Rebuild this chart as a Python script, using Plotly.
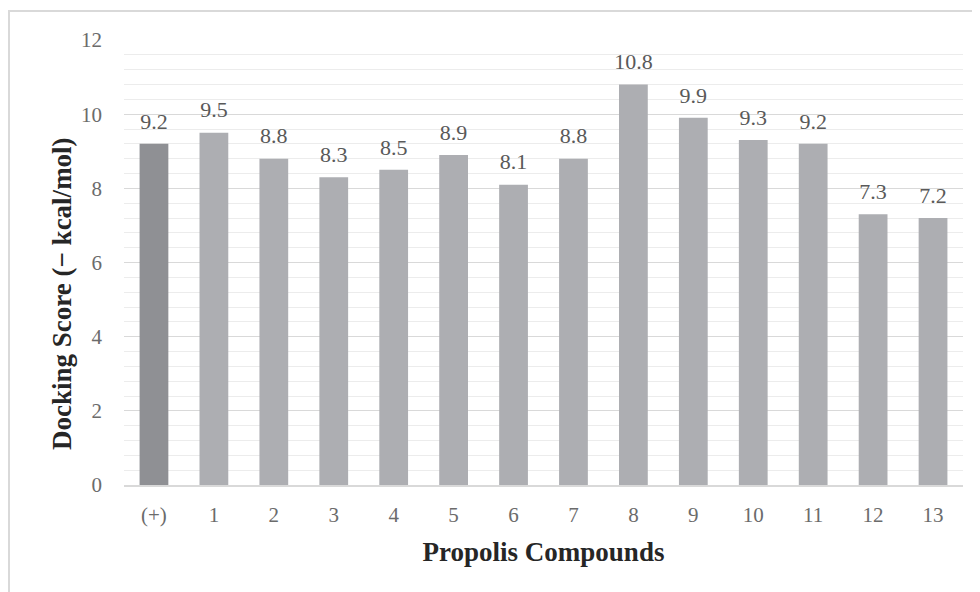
import plotly.graph_objects as go

categories = ["(+)", "1", "2", "3", "4", "5", "6", "7", "8", "9", "10", "11", "12", "13"]
scores = [9.2, 9.5, 8.8, 8.3, 8.5, 8.9, 8.1, 8.8, 10.8, 9.9, 9.3, 9.2, 7.3, 7.2]
labels = ["9.2", "9.5", "8.8", "8.3", "8.5", "8.9", "8.1", "8.8", "10.8", "9.9", "9.3", "9.2", "7.3", "7.2"]
bar_colors = ["#8f9094"] + ["#adaeb2"] * 13

font = "Liberation Serif, Times New Roman, serif"

fig = go.Figure(go.Bar(
    x=categories, y=scores, marker=dict(color=bar_colors, line=dict(width=0)),
    width=0.48, hoverinfo="y",
))
fig.add_trace(go.Scatter(
    x=categories, y=scores, mode="markers+text", text=labels,
    textposition="top center", cliponaxis=False,
    marker=dict(size=14, opacity=0, color="white"),
    textfont=dict(family=font, size=22, color="#595959"),
    hoverinfo="skip",
))

L, T, PW, PH = 116, 32, 839, 445
fig.update_layout(
    width=972, height=584,
    margin=dict(l=L, r=972 - L - PW, t=T, b=584 - T - PH),
    paper_bgcolor="white", plot_bgcolor="white",
    showlegend=False,
    font=dict(family=font),
    xaxis=dict(
        range=[-0.5, len(categories) - 0.5],
        showgrid=False, showline=True, linecolor="#d9d9d9", linewidth=2,
        tickfont=dict(family=font, size=21, color="#6b6b6b"),
        ticks="", ticklen=0, ticklabelstandoff=10,
        title=dict(text="<b>Propolis Compounds</b>", font=dict(family=font, size=27, color="#262626"), standoff=16),
    ),
    yaxis=dict(
        range=[0, 12], dtick=2, tick0=0,
        showgrid=True, gridcolor="#d9d9d9", gridwidth=1,
        zeroline=False, showline=False,
        minor=dict(dtick=0.4, tick0=0, showgrid=True, gridcolor="#ececec", gridwidth=1),
        tickfont=dict(family=font, size=21, color="#6b6b6b"),
        ticks="", ticklabelstandoff=21,
    ),
)

fig.add_annotation(
    text="<b>Docking Score (− kcal/mol)</b>", textangle=-90,
    xref="paper", yref="paper", x=(54 - L) / PW, y=(T + PH - 286) / PH,
    xanchor="center", yanchor="middle", showarrow=False,
    font=dict(family=font, size=27, color="#262626"),
)

# outer chart border (left and top edges visible)
fig.add_shape(type="rect", xref="paper", yref="paper",
              x0=(1 - L) / PW, x1=(1000 - L) / PW,
              y0=(T + PH - 620) / PH, y1=(T + PH - 3) / PH,
              line=dict(color="#d9d9d9", width=2), layer="below")

fig.write_html("out.html")
